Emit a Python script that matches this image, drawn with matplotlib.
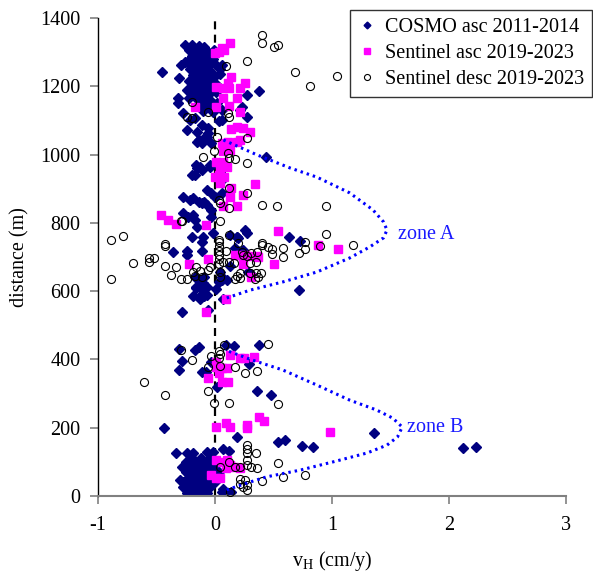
import matplotlib
matplotlib.use('Agg')
import matplotlib.pyplot as plt
import numpy as np

plt.rcParams['font.family'] = ['Liberation Serif', 'DejaVu Serif']
plt.rcParams['mathtext.fontset'] = 'custom'
plt.rcParams['mathtext.rm'] = 'Liberation Serif'
plt.rcParams['axes.unicode_minus'] = False

# COSMO asc 2011-2014 (v_H cm/y, distance m)
cosmo_pts = [
    (-0.45, 1243), (-0.31, 1225), (-0.26, 1321), (-0.20, 1321), (-0.14, 1318), (-0.09, 1314),
    (-0.26, 1272), (-0.29, 1262), (-0.24, 1189), (-0.32, 1166), (-0.32, 1151), (-0.27, 1122),
    (-0.21, 1101), (-0.17, 1107), (-0.11, 1087), (-0.06, 1078), (-0.24, 1072), (-0.15, 1066),
    (-0.06, 1062), (0.06, 1101), (0.03, 1097), (0.21, 1131), (0.27, 1175), (0.27, 1111),
    (0.38, 1186), (0.06, 1262), (0.04, 1250), (0.04, 1236), (0.23, 1138),
    (-0.22, 1305), (-0.16, 1300), (-0.10, 1302), (-0.05, 1298), (-0.01, 1305),
    (-0.20, 1288), (-0.13, 1285), (-0.07, 1282), (-0.02, 1280),
    (-0.24, 1270), (-0.17, 1268), (-0.11, 1265), (-0.05, 1262), (0.00, 1266),
    (-0.21, 1250), (-0.15, 1248), (-0.09, 1245), (-0.03, 1243),
    (-0.19, 1232), (-0.12, 1230), (-0.06, 1228), (-0.01, 1226),
    (-0.22, 1215), (-0.16, 1212), (-0.10, 1210), (-0.04, 1212), (0.01, 1208),
    (-0.20, 1198), (-0.13, 1195), (-0.07, 1193), (-0.02, 1196),
    (-0.18, 1180), (-0.11, 1178), (-0.05, 1176), (0.01, 1182),
    (-0.22, 1165), (-0.15, 1162), (-0.08, 1160), (-0.03, 1158),
    (-0.13, 1145), (-0.06, 1142), (0.02, 1150), (0.06, 1130), (-0.10, 1128), (-0.02, 1125),
    (-0.14, 1043), (-0.11, 1033), (-0.09, 1048), (-0.07, 1052), (-0.15, 1038), (-0.03, 1033),
    (0.44, 993), (-0.16, 970), (-0.04, 970),
    (-0.13, 964), (-0.15, 961), (-0.11, 955), (-0.20, 940), (-0.17, 940), (-0.04, 965),
    (0.04, 950), (0.03, 927), (0.07, 927),
    (-0.07, 896), (-0.03, 887), (0.06, 887), (-0.27, 877), (-0.21, 867), (-0.19, 872),
    (-0.14, 862), (-0.11, 857), (-0.09, 862), (-0.07, 852), (0.00, 877),
    (-0.27, 829), (-0.23, 817), (-0.19, 823), (-0.03, 838), (-0.17, 808), (-0.15, 789), (-0.03, 818),
    (-0.20, 760), (-0.10, 760), (-0.02, 770), (0.13, 764), (0.19, 760), (0.20, 756), (0.27, 770),
    (0.26, 779), (0.19, 758), (0.63, 758), (0.73, 748),
    (-0.36, 716), (-0.24, 706), (-0.24, 719), (-0.11, 719), (-0.11, 745), (0.17, 726), (0.24, 721),
    (-0.17, 640), (-0.13, 633), (-0.10, 623), (-0.07, 613), (-0.11, 606), (-0.16, 608),
    (0.04, 657), (0.06, 633), (0.03, 628), (0.13, 674), (0.01, 605), (-0.19, 586), (-0.13, 576),
    (-0.09, 586), (-0.14, 584), (0.07, 576), (-0.28, 540), (-0.06, 545), (0.28, 657), (0.31, 650),
    (0.72, 603), (0.06, 642), (0.10, 633), (-0.07, 589), (-0.16, 611), (-0.09, 642),
    (-0.31, 432), (-0.17, 428), (-0.14, 436), (-0.28, 396), (-0.31, 369), (-0.11, 364), (-0.08, 364),
    (0.09, 442), (0.16, 439), (0.38, 442), (-0.03, 393), (0.29, 387), (0.02, 320), (0.36, 308),
    (0.48, 296), (-0.44, 198), (0.19, 174), (0.54, 159), (0.60, 164), (0.74, 146), (0.84, 144),
    (1.36, 184), (2.12, 140), (2.23, 143),
    (-0.33, 127), (-0.24, 127), (-0.19, 125), (-0.07, 130), (-0.02, 130), (0.07, 137), (0.12, 133),
    (0.06, 13), (0.14, 13), (-0.13, 3), (-0.30, 47), (-0.27, 27), (0.07, 20),
    (-0.20, 112), (-0.12, 110), (-0.05, 108),
    (-0.25, 100), (-0.17, 98), (-0.10, 96), (-0.03, 95), (0.02, 100),
    (-0.28, 85), (-0.21, 84), (-0.14, 82), (-0.07, 83), (-0.01, 80),
    (-0.25, 70), (-0.18, 68), (-0.11, 67), (-0.04, 66), (0.03, 70),
    (-0.22, 55), (-0.15, 54), (-0.08, 52), (-0.02, 55),
    (-0.27, 42), (-0.19, 40), (-0.12, 38), (-0.05, 40), (0.01, 44),
    (-0.23, 28), (-0.16, 25), (-0.09, 24), (-0.03, 28),
    (-0.20, 12), (-0.14, 14), (-0.07, 10), (-0.24, 8),
]

# Sentinel asc 2019-2023
asc_pts = [
    (0.13, 1328), (0.06, 1311), (0.03, 1301), (0.00, 1297), (0.08, 1306),
    (0.01, 1199), (0.11, 1209), (0.14, 1228), (0.26, 1209), (0.21, 1195), (0.12, 1195), (0.07, 1194),
    (0.07, 1165), (0.19, 1165), (0.01, 1140), (0.12, 1142), (-0.17, 1140), (0.21, 1126),
    (0.14, 1075), (0.19, 1080), (0.24, 1078), (0.30, 1067),
    (0.06, 1033), (0.11, 1038), (0.19, 1038), (0.21, 1043), (0.10, 1023), (0.07, 1009), (0.13, 1013),
    (0.01, 979), (0.07, 979), (0.04, 960), (0.10, 965), (0.03, 940), (0.08, 935), (0.00, 935),
    (0.04, 916), (0.14, 901), (0.13, 877), (0.34, 913), (0.24, 882), (0.19, 848), (0.07, 848),
    (-0.46, 823), (-0.40, 808), (-0.33, 796), (-0.08, 794), (0.54, 777),
    (-0.22, 679), (-0.06, 693), (0.17, 706), (0.21, 706), (0.26, 706), (0.30, 703), (0.36, 703),
    (0.24, 680), (0.50, 680), (0.31, 642), (0.09, 576), (-0.08, 540), (0.37, 701), (0.88, 735),
    (1.05, 722),
    (0.13, 413), (0.21, 403), (0.25, 403), (0.33, 408), (0.01, 393), (0.01, 379), (0.06, 374),
    (0.10, 374), (0.03, 359), (-0.06, 345), (0.06, 335), (0.11, 335), (0.01, 201), (0.09, 215),
    (0.13, 203), (0.27, 208), (0.27, 200), (0.38, 230), (0.42, 221), (0.98, 188),
    (0.01, 105), (0.06, 101), (0.10, 105), (0.13, 91), (0.09, 81), (0.16, 84), (-0.03, 62),
    (0.01, 52), (0.04, 52), (0.21, 81),
]

# Sentinel desc 2019-2023
desc_pts = [
    (0.40, 1350), (0.40, 1326), (0.50, 1316), (0.54, 1321), (0.27, 1275), (0.09, 1258),
    (0.68, 1242), (1.04, 1230), (0.81, 1201), (-0.20, 1155), (-0.06, 1126), (0.11, 1122),
    (0.12, 1110), (-0.24, 1110), (-0.20, 1107), (0.02, 1052), (0.27, 1049),
    (-0.01, 1010), (0.11, 1004), (0.12, 989), (0.17, 987), (0.27, 974), (-0.10, 992),
    (0.12, 903), (0.27, 887), (0.03, 867), (0.04, 857), (0.12, 844), (0.40, 852), (0.53, 848),
    (0.95, 850), (-0.28, 804), (0.04, 806), (0.12, 764), (0.03, 750), (-0.43, 738), (0.40, 740),
    (0.95, 767), (1.18, 735), (0.90, 732),
    (-0.89, 750), (-0.79, 761), (-0.43, 732), (-0.70, 683), (-0.56, 698), (-0.52, 698),
    (-0.56, 685), (-0.43, 674), (-0.33, 672), (-0.38, 647), (-0.29, 636), (-0.24, 635),
    (-0.89, 636), (-0.29, 804),
    (-0.19, 657), (-0.16, 670), (-0.13, 660), (-0.17, 644), (-0.11, 642), (-0.04, 672), (-0.06, 662),
    (0.03, 745), (0.03, 732), (0.03, 719), (0.03, 706), (0.03, 693), (0.03, 680), (0.09, 719),
    (0.07, 686), (0.12, 684), (0.16, 682), (0.04, 657), (0.04, 642), (0.20, 742), (0.23, 716),
    (0.24, 706), (0.27, 703), (0.31, 711), (0.36, 716), (0.30, 682), (0.35, 686), (0.40, 735),
    (0.45, 728), (0.49, 723), (0.49, 709), (0.21, 652), (0.19, 644), (0.21, 638), (0.17, 635),
    (0.30, 652), (0.35, 652), (0.37, 641), (0.34, 635), (0.39, 654),
    (0.58, 725), (0.58, 701), (0.72, 713), (0.77, 745), (0.77, 722),
    (-0.29, 428), (-0.20, 398), (-0.61, 335), (-0.43, 296), (-0.06, 308), (-0.01, 273),
    (0.12, 273), (0.54, 269), (0.08, 442), (0.03, 425), (0.04, 416), (0.03, 403), (-0.03, 410),
    (-0.06, 379), (0.04, 381), (0.17, 377), (0.26, 361), (0.36, 367), (0.45, 445),
    (0.27, 149), (0.27, 137), (0.27, 127), (0.35, 127), (0.12, 101), (0.17, 86), (0.21, 84),
    (0.27, 105), (0.27, 91), (0.31, 84), (0.36, 81), (0.04, 84), (0.21, 49), (0.26, 47),
    (0.21, 35), (0.27, 32), (0.27, 18), (0.13, 13), (0.54, 98), (0.58, 55), (0.77, 62),
    (0.40, 45), (0.24, 27),
]

# hand-drawn zone outlines
zoneA_x = [0.10, 0.30, 0.58, 0.87, 1.15, 1.32, 1.44, 1.47, 1.44, 1.35, 1.15, 0.87, 0.64, 0.36, 0.07]
zoneA_y = [580, 603, 627, 656, 697, 729, 756, 779, 803, 838, 888, 934, 961, 999, 1043]
zoneB_x = [0.10, 0.30, 0.44, 0.73, 1.01, 1.30, 1.47, 1.56, 1.60, 1.52, 1.38, 1.15, 0.87, 0.58, 0.32, 0.085]
zoneB_y = [18, 41, 56, 76, 100, 126, 149, 173, 202, 228, 252, 281, 325, 369, 398, 428]

cx, cy = np.array(cosmo_pts).T
ax_, ay_ = np.array(asc_pts).T
dx, dy = np.array(desc_pts).T

fig = plt.figure(figsize=(5.93, 5.75), dpi=100)
ax = fig.add_axes([98/593, 79/575, 468/593, 478/575])

ax.axvline(0, color='black', lw=1.6, ls=(0, (3.6, 2.4)), zorder=1)

ax.plot(cx, cy, ls='none', marker='D', ms=4.6, color='#000080', mec='#000080',
        label='COSMO asc 2011-2014', zorder=2)
ax.plot(ax_, ay_, ls='none', marker='s', ms=6.0, color='#ff00ff', mec='#ff00ff',
        label='Sentinel asc 2019-2023', zorder=3)
ax.plot(dx, dy, ls='none', marker='o', ms=5.8, mfc='none', mec='black', mew=0.8,
        label='Sentinel desc 2019-2023', zorder=4)

ax.plot(zoneA_x, zoneA_y, color='#0000ff', lw=2.2, ls=(0, (0.8, 1.3)), zorder=5)
ax.plot(zoneB_x, zoneB_y, color='#0000ff', lw=2.2, ls=(0, (0.8, 1.3)), zorder=5)
ax.text(1.56, 767, 'zone A', color='#1a1aff', fontsize=14.5, ha='left', va='center')
ax.text(1.64, 202, 'zone B', color='#1a1aff', fontsize=14.5, ha='left', va='center')

ax.set_xlim(-1, 3)
ax.set_ylim(0, 1400)
ax.set_xticks([-1, 0, 1, 2, 3])
ax.set_yticks(np.arange(0, 1401, 200))

for s in ['top', 'right']:
    ax.spines[s].set_visible(False)
ax.spines['left'].set_color('black')
ax.spines['left'].set_linewidth(1.0)
ax.spines['bottom'].set_color('#808080')
ax.spines['bottom'].set_linewidth(1.5)
ax.tick_params(axis='both', colors='#808080', labelcolor='black', labelsize=14.5,
               length=5.5, width=1.2)
ax.tick_params(axis='x', pad=9)
ax.tick_params(axis='y', pad=7)

ax.set_xlabel(r'v$_\mathrm{H}$ (cm/y)', fontsize=14.5, labelpad=10)
ax.set_ylabel('distance (m)', fontsize=14.5, labelpad=8)

leg = ax.legend(loc='upper right', bbox_to_anchor=(0.998, 0.983), bbox_transform=fig.transFigure,
                fontsize=14.5, frameon=True, fancybox=False, edgecolor='black',
                handlelength=0.8, handletextpad=0.5, labelspacing=0.35, borderpad=0.4,
                borderaxespad=0, markerscale=0.75)
leg.get_frame().set_linewidth(1.0)

fig.savefig('out.png', dpi=100)
